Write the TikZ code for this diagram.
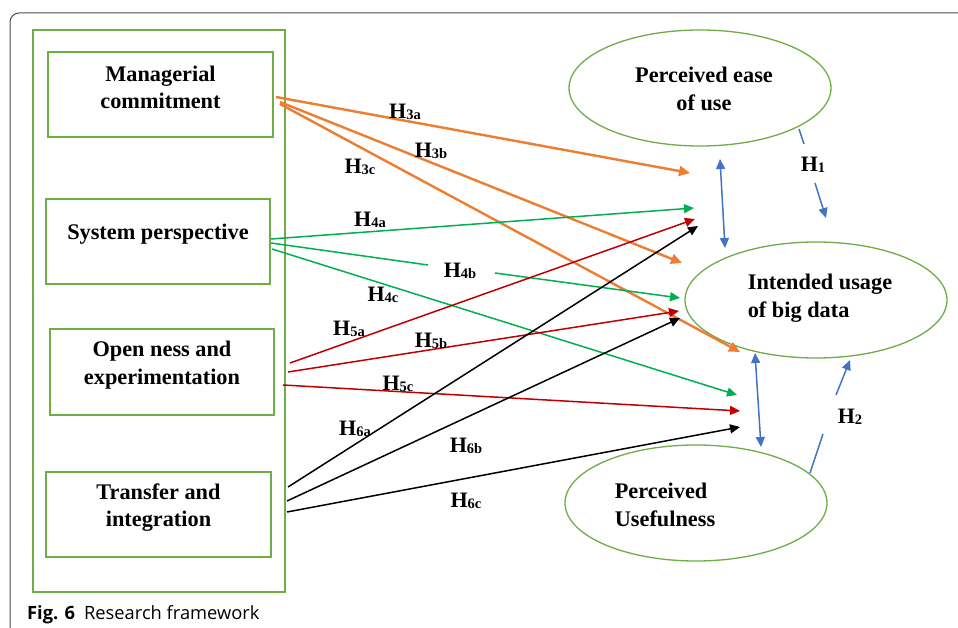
\documentclass[tikz,border=0pt]{standalone}
\usepackage{fontspec}
\setmainfont{Liberation Serif}
\newfontfamily\capfont{Open Sans}
\usetikzlibrary{arrows.meta,shapes.geometric}
\definecolor{boxg}{HTML}{70AD47}
\definecolor{orng}{HTML}{ED7D31}
\definecolor{grn}{HTML}{00B050}
\definecolor{rd}{HTML}{C00000}
\definecolor{blu}{HTML}{4472C4}
\definecolor{frm}{HTML}{4D4D4D}
\newcommand{\hyp}[1]{H\raisebox{-1.5pt}{\fontsize{14.5}{14.5}\selectfont #1}}
\begin{document}
\begin{tikzpicture}[x=1pt,y=-1pt,
  box/.style={draw=boxg, line width=1.3pt, rectangle, inner sep=0pt, minimum width=225pt, minimum height=85pt},
  ell/.style={draw=boxg, line width=1.3pt, ellipse, inner sep=0pt, minimum width=262pt, minimum height=116pt},
  txt/.style={font=\fontsize{22.3}{27.5}\selectfont\bfseries, align=center, inner sep=0pt},
  txtl/.style={font=\fontsize{22.3}{27.5}\selectfont\bfseries, align=left, inner sep=0pt},
  lab/.style={font=\fontsize{22}{22}\selectfont\bfseries, inner sep=0pt},
  ora/.style={orng, line width=2.4pt, -{Triangle[length=11pt,width=10pt]}},
  thn/.style={line width=1.5pt, -{Triangle[length=10pt,width=9pt]}},
  bl/.style={blu, line width=1.5pt},
  dbl/.style={blu, line width=1.5pt, {Triangle[length=10pt,width=9pt]}-{Triangle[length=10pt,width=9pt]}}
]
\useasboundingbox (0,0) rectangle (958,628);
\fill[white] (0,0) rectangle (958,628);
% outer frame
\draw[frm, line width=1pt, rounded corners=9pt] (10,628) -- (10,13) -- (958,13);
% group box
\node[draw=boxg, line width=1.3pt, rectangle, inner sep=0pt, minimum width=252pt, minimum height=562pt] (grp) at (159,311) {};
% boxes
\node[box] (mc) at (160.5,94.5) {};
\node[txt] at ([yshift=7pt]mc.center) {Managerial\\commitment};
\node[box, minimum width=224pt] (sp) at (158,241.5) {};
\node[txt] at ([yshift=7pt]sp.center) {System perspective};
\node[box, minimum width=224pt, minimum height=86pt] (oe) at (162,372) {};
\node[txt] at ([yshift=7pt]oe.center) {Open ness and\\experimentation};
\node[box, minimum height=85pt] (ti) at (158.5,514.5) {};
\node[txt] at ([yshift=7pt]ti.center) {Transfer and\\integration};
% ellipses
\node[ell] (pe) at (700,88) {};
\node[txt] at (704,89) {Perceived ease\\of use};
\node[ell] (iu) at (816,300) {};
\node[txtl] at (820,298) {Intended usage\\of big data};
\node[ell] (pu) at (696,503) {};
\node[txtl] at (665,505) {Perceived\\Usefulness};
% coordinates
\coordinate (a1) at (276,97);  \coordinate (a1t) at (690,173);
\coordinate (a2) at (280,102); \coordinate (a2t) at (682,263);
\coordinate (a3) at (280,104); \coordinate (a3t) at (740,352);
\coordinate (g1) at (271,239); \coordinate (g1t) at (694,208);
\coordinate (g2) at (271,243); \coordinate (g2m) at (428,265); \coordinate (g2n) at (495,273); \coordinate (g2t) at (680,298);
\coordinate (g3) at (272,249); \coordinate (g3t) at (737,395);
\coordinate (r1) at (290,363); \coordinate (r1t) at (695,219);
\coordinate (r2) at (288,372); \coordinate (r2t) at (679,311);
\coordinate (r3) at (283,385); \coordinate (r3t) at (740,411);
\coordinate (k1) at (288,487); \coordinate (k1t) at (698,226);
\coordinate (k2) at (287,501); \coordinate (k2t) at (680,318);
\coordinate (k3) at (287,512); \coordinate (k3t) at (740,427);
\coordinate (u1) at (720,159); \coordinate (u1t) at (725,248);
\coordinate (u2) at (755,353); \coordinate (u2t) at (761,447);
\coordinate (h1s) at (799,129); \coordinate (h1m) at (804,144); \coordinate (h1n) at (815,183); \coordinate (h1t) at (826,218);
\coordinate (h2s) at (810,473); \coordinate (h2m) at (823,434); \coordinate (h2n) at (836,395); \coordinate (h2t) at (850,360);
% orange
\draw[ora] (a1) -- (a1t);
\draw[ora] (a2) -- (a2t);
\draw[ora] (a3) -- (a3t);
% green
\draw[thn, grn] (g1) -- (g1t);
\draw[grn, line width=1.5pt] (g2) -- (g2m);
\draw[thn, grn] (g2n) -- (g2t);
\draw[thn, grn] (g3) -- (g3t);
% red
\draw[thn, rd] (r1) -- (r1t);
\draw[thn, rd] (r2) -- (r2t);
\draw[thn, rd] (r3) -- (r3t);
% black
\draw[thn, black] (k1) -- (k1t);
\draw[thn, black] (k2) -- (k2t);
\draw[thn, black] (k3) -- (k3t);
% blue
\draw[dbl] (u1) -- (u1t);
\draw[dbl] (u2) -- (u2t);
\draw[bl] (h1s) -- (h1m);
\draw[bl, -{Triangle[length=10pt,width=9pt]}] (h1n) -- (h1t);
\draw[bl] (h2s) -- (h2m);
\draw[bl, -{Triangle[length=10pt,width=9pt]}] (h2n) -- (h2t);
% labels
\node[lab] (l3a) at (405,112) {\hyp{3a}};
\node[lab] (l3b) at (431,151) {\hyp{3b}};
\node[lab] (l3c) at (360,167) {\hyp{3c}};
\node[lab] (l4a) at (370,220) {\hyp{4a}};
\node[lab] (l4b) at (460,271) {\hyp{4b}};
\node[lab] (l4c) at (383,295) {\hyp{4c}};
\node[lab] (l5a) at (349,329) {\hyp{5a}};
\node[lab] (l5b) at (431,341) {\hyp{5b}};
\node[lab] (l5c) at (398,384) {\hyp{5c}};
\node[lab] (l6a) at (355,429) {\hyp{6a}};
\node[lab] (l6b) at (466,446) {\hyp{6b}};
\node[lab] (l6c) at (466,501) {\hyp{6c}};
\node[lab] (l1) at (813,165) {\hyp{1}};
\node[lab] (l2) at (850,417) {\hyp{2}};
% caption
\node[anchor=base west, inner sep=0pt, font=\capfont\fontsize{18.3}{18.3}\selectfont] (cap) at (27,619) {\textbf{Fig. 6}\hspace{9pt}Research framework};
\end{tikzpicture}
\end{document}
